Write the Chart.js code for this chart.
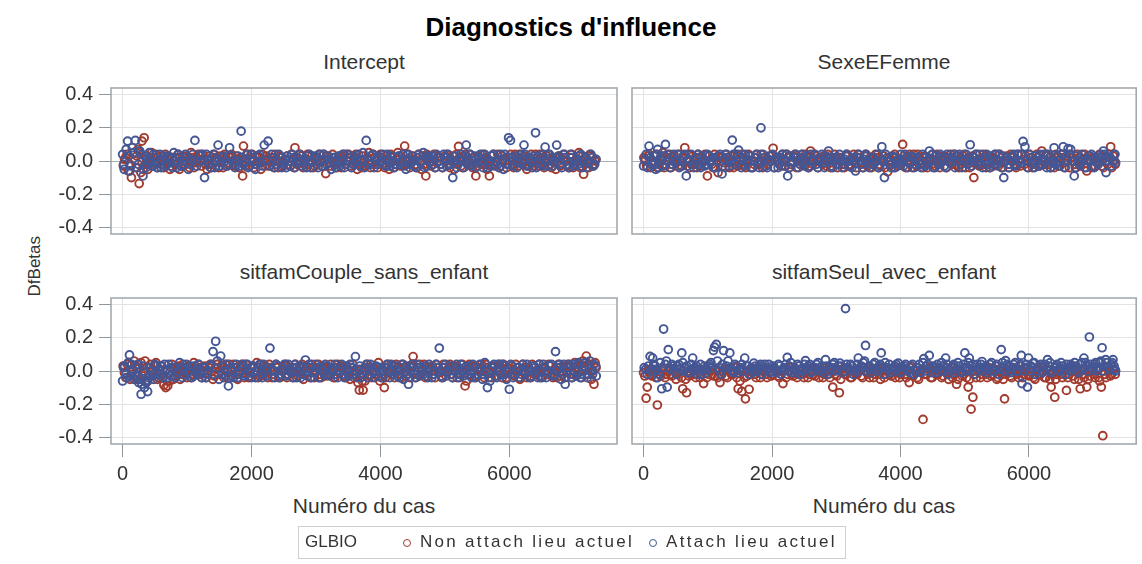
<!DOCTYPE html>
<html>
<head>
<meta charset="utf-8">
<script src="https://cdn.jsdelivr.net/npm/chart.js"></script>
<style>
  body { margin:0; width:1142px; height:564px; background:#fff; position:relative; overflow:hidden;
         font-family:"Liberation Sans", Arial, sans-serif; color:#333; }
  .txt { position:absolute; white-space:nowrap; text-align:center; line-height:1.2; }
  canvas { position:absolute; }
  #legende { position:absolute; left:298px; top:526px; width:548px; height:33px; border:1px solid #cfcfcf; box-sizing:border-box; }
  #legende span { position:absolute; top:5px; font-size:17px; white-space:nowrap; }
  .rond { position:absolute; top:12px; width:6px; height:6px; border-radius:50%; border:1.6px solid; }
</style>
</head>
<body>
<div class="txt" style="left:0;width:1142px;top:12px;font-size:26px;font-weight:bold;color:#000">Diagnostics d'influence</div>
<div class="txt" style="left:64px;width:600px;top:49px;font-size:21px">Intercept</div>
<div class="txt" style="left:584px;width:600px;top:49px;font-size:21px">SexeEFemme</div>
<div class="txt" style="left:64px;width:600px;top:259px;font-size:21px">sitfamCouple_sans_enfant</div>
<div class="txt" style="left:584px;width:600px;top:259px;font-size:21px">sitfamSeul_avec_enfant</div>
<div class="txt" style="left:64px;width:600px;top:493px;font-size:21px">Numéro du cas</div>
<div class="txt" style="left:584px;width:600px;top:493px;font-size:21px">Numéro du cas</div>
<div class="txt" style="left:-15px;width:100px;top:256px;font-size:17px;transform:rotate(-90deg)">DfBetas</div>

<canvas id="cIntercept" width="625" height="170" style="left:0;top:78px"></canvas>
<canvas id="cSexe" width="522" height="170" style="left:620px;top:78px"></canvas>
<canvas id="cCouple" width="625" height="240" style="left:0;top:288px"></canvas>
<canvas id="cSeul" width="522" height="240" style="left:620px;top:288px"></canvas>

<div id="legende">
  <span style="left:6px;top:5px">GLBIO</span>
  <div class="rond" style="left:104px;border-color:#A23A2E"></div>
  <span style="left:121px;letter-spacing:2.3px">Non attach lieu actuel</span>
  <div class="rond" style="left:350px;border-color:#445694"></div>
  <span style="left:367px;letter-spacing:2.3px">Attach lieu actuel</span>
</div>

<script>
const ROUGE = '#A23A2E';
const BLEU = '#445694';
const xTicks = [0, 2000, 4000, 6000];
const yTicks = [-0.4, -0.2, 0, 0.2, 0.4];

// [numéro du cas, DfBeta] - Non attach lieu actuel / Attach lieu actuel
const interceptNon = [[12,-0.03],[48,0.02],[90,-0.06],[137,-0.1],[170,0.05],[205,-0.04],[240,0.07],[257,-0.136],[283,-0.07],[300,0.12],[334,0.14],[360,0.03],[392,-0.05],[430,0.02],[470,-0.03],[515,0.04],[560,-0.01],[600,0.03],[640,-0.04],[690,0.01],[735,-0.05],[770,0.02],[815,-0.02],[860,0.04],[905,-0.03],[950,0.00],[995,0.03],[1040,-0.04],[1085,0.02],[1130,-0.01],[1175,0.04],[1220,-0.03],[1265,0.01],[1310,-0.05],[1355,0.03],[1400,-0.02],[1445,0.02],[1490,-0.04],[1535,0.00],[1580,0.04],[1625,-0.03],[1670,0.02],[1715,-0.01],[1760,0.03],[1805,-0.04],[1862,-0.09],[1875,0.09],[1920,0.01],[1965,-0.03],[2010,0.04],[2055,-0.02],[2100,0.02],[2145,-0.05],[2190,0.01],[2235,0.03],[2280,-0.03],[2325,0.00],[2370,0.04],[2415,-0.04],[2460,0.02],[2505,-0.01],[2550,0.03],[2595,-0.03],[2640,0.01],[2674,0.08],[2710,-0.02],[2755,0.04],[2800,-0.04],[2845,0.01],[2890,-0.02],[2935,0.03],[2980,-0.03],[3025,0.02],[3070,-0.01],[3115,0.04],[3152,-0.076],[3190,0.01],[3235,-0.03],[3280,0.02],[3325,-0.04],[3370,0.03],[3415,0.00],[3460,-0.02],[3505,0.04],[3550,-0.03],[3595,0.02],[3640,-0.05],[3685,0.01],[3730,0.03],[3775,-0.03],[3820,0.05],[3865,-0.02],[3910,0.02],[3955,-0.04],[4000,0.04],[4045,-0.01],[4090,0.03],[4135,-0.05],[4180,0.02],[4225,-0.02],[4270,0.05],[4315,-0.03],[4376,0.09],[4410,0.01],[4455,-0.04],[4500,0.03],[4545,-0.02],[4590,0.04],[4635,-0.05],[4704,-0.09],[4740,0.02],[4785,-0.03],[4830,0.04],[4875,-0.01],[4920,0.02],[4965,-0.04],[5010,0.03],[5055,-0.02],[5100,0.01],[5145,-0.05],[5180,0.04],[5212,0.088],[5250,-0.03],[5295,0.02],[5340,-0.01],[5385,0.04],[5430,-0.04],[5480,-0.09],[5520,0.03],[5565,-0.02],[5610,0.01],[5655,-0.05],[5690,-0.09],[5730,0.03],[5775,-0.02],[5820,0.04],[5865,-0.03],[5910,0.01],[5955,-0.04],[6000,0.02],[6045,-0.02],[6090,0.04],[6135,-0.03],[6180,0.00],[6225,0.03],[6270,-0.05],[6315,0.02],[6360,-0.01],[6405,0.04],[6450,-0.03],[6495,0.01],[6540,-0.04],[6585,0.03],[6630,-0.02],[6675,0.02],[6720,-0.05],[6765,0.03],[6810,-0.01],[6855,0.04],[6900,-0.03],[6945,0.02],[6990,-0.04],[7035,0.01],[7080,0.05],[7120,-0.03],[7152,-0.08],[7190,0.02],[7230,-0.04],[7270,0.03],[7310,-0.02],[7340,0.01],
  [30,0.01],[70,0.04],[115,-0.02],[188,0.0],[222,0.03],[270,0.05],[318,-0.05],[345,-0.02],[375,0.01],[410,-0.01],[450,0.05],[492,0.0],[538,-0.04],[580,0.01],[620,-0.02],[665,0.04],[712,-0.01],[752,-0.03],[792,0.0],[838,0.02],[882,-0.05],[928,0.03],[972,-0.02],[1018,0.01],[1062,0.05],[1108,-0.04],[1152,0.02],[1198,0.0],[1242,0.04],[1288,-0.02],[1332,0.01],[1378,-0.04],[1422,0.04],[1468,0.0],[1512,0.03],[1558,-0.04],[1602,0.02],[1648,-0.01],[1692,0.04],[1738,-0.03],[1782,0.01],[1828,0.02],[1898,-0.03],[1942,0.04],[1988,0.0],[2032,-0.04],[2078,0.03],[2122,-0.01],[2168,0.04],[2212,-0.03],[2258,0.0],[2302,0.02],[2348,-0.04],[2392,0.01],[2438,0.03],[2482,-0.03],[2528,0.01],[2572,-0.02],[2618,0.04],[2658,-0.04],[2690,0.02],[2732,-0.01],[2778,0.03],[2822,-0.02],[2868,0.04],[2912,0.0],[2958,-0.04],[3002,0.02],[3048,0.04],[3092,-0.03],[3138,0.0],[3170,0.03],[3212,-0.01],[3258,0.04],[3302,-0.02],[3348,0.01],[3392,-0.04],[3438,0.04],[3482,0.0],[3528,0.02],[3572,-0.01],[3618,0.04],[3662,-0.02],[3708,-0.04],[3752,0.0],[3798,0.02],[3842,-0.04],[3888,0.04],[3932,0.0],[3978,-0.02],[4022,0.02],[4068,-0.04],[4112,0.0],[4158,0.04],[4202,-0.04],[4248,0.01],[4292,0.03],[4340,0.0],[4390,-0.02],[4432,0.04],[4478,-0.01],[4522,0.01],[4568,-0.04],[4612,0.0],[4660,0.03],[4682,-0.02],[4720,0.04],[4762,-0.01],[4808,0.0],[4852,-0.04],[4898,0.03],[4942,-0.02],[4988,0.0],[5032,0.04],[5078,-0.04],[5122,0.03],[5165,0.0],[5195,-0.02],[5230,0.02],[5272,-0.04],[5318,0.04],[5362,0.0],[5408,-0.02],[5455,0.02],[5500,-0.03],[5542,0.0],[5588,0.04],[5632,-0.02],[5672,0.01],[5710,-0.03],[5752,0.04],[5798,0.0],[5842,-0.04],[5888,0.03],[5932,0.0],[5978,-0.02],[6022,0.04],[6068,-0.04],[6112,0.01],[6158,0.04],[6202,-0.02],[6248,0.0],[6292,-0.03],[6338,0.04],[6382,-0.03],[6428,0.0],[6472,0.04],[6518,-0.02],[6562,0.0],[6608,0.04],[6652,-0.04],[6698,0.0],[6742,0.02],[6788,-0.03],[6832,0.01],[6878,0.0],[6922,-0.04],[6968,0.04],[7012,-0.02],[7058,0.0],[7100,-0.04],[7138,0.03],[7172,-0.02],[7210,0.0],[7250,0.04],[7290,-0.03],[7328,0.0]];
const interceptAttach = [[0,0.04],[25,-0.05],[55,0.07],[78,0.12],[110,-0.06],[150,0.08],[197,0.124],[225,-0.04],[265,0.06],[316,-0.09],[345,0.03],[380,-0.02],[415,0.05],[455,-0.03],[495,0.02],[540,-0.04],[580,0.04],[620,0.01],[665,-0.03],[710,0.03],[750,-0.01],[795,0.05],[840,-0.04],[885,0.02],[930,-0.02],[975,0.04],[1020,-0.05],[1065,0.01],[1122,0.124],[1150,-0.03],[1195,0.03],[1235,0.00],[1271,-0.1],[1300,0.04],[1340,-0.02],[1385,0.02],[1430,-0.04],[1481,0.096],[1520,-0.01],[1565,0.03],[1610,-0.03],[1660,0.08],[1700,0.00],[1745,-0.04],[1790,0.03],[1839,0.18],[1880,-0.02],[1925,0.04],[1970,-0.03],[2015,0.02],[2060,-0.05],[2105,0.03],[2150,-0.01],[2197,0.096],[2257,0.12],[2290,-0.03],[2335,0.02],[2380,-0.02],[2425,0.04],[2470,-0.04],[2515,0.01],[2560,0.03],[2605,-0.03],[2650,0.02],[2695,-0.01],[2740,0.04],[2785,-0.03],[2830,0.01],[2875,0.03],[2920,-0.04],[2965,0.02],[3010,-0.02],[3055,0.04],[3100,-0.03],[3145,0.01],[3190,0.03],[3235,-0.05],[3280,0.02],[3325,0.00],[3370,-0.03],[3415,0.04],[3460,-0.02],[3505,0.02],[3550,-0.04],[3595,0.03],[3640,0.01],[3685,-0.03],[3730,0.05],[3779,0.124],[3810,-0.02],[3855,0.03],[3900,-0.04],[3945,0.02],[3990,-0.01],[4035,0.04],[4080,-0.03],[4125,0.01],[4170,0.03],[4215,-0.04],[4260,0.02],[4305,-0.02],[4350,0.04],[4395,-0.05],[4440,0.01],[4485,0.03],[4530,-0.03],[4575,0.02],[4620,-0.01],[4665,0.05],[4710,-0.03],[4755,0.01],[4800,0.03],[4845,-0.04],[4890,0.02],[4935,-0.02],[4980,0.04],[5025,-0.03],[5070,0.01],[5122,-0.1],[5160,0.03],[5205,-0.02],[5250,0.04],[5295,-0.04],[5331,0.096],[5370,0.01],[5415,-0.03],[5460,0.03],[5505,-0.01],[5550,0.04],[5595,-0.04],[5640,0.02],[5685,-0.02],[5730,0.03],[5775,-0.03],[5820,0.01],[5865,0.04],[5910,-0.05],[5950,0.02],[5988,0.14],[6018,0.124],[6050,-0.03],[6095,0.03],[6140,-0.01],[6185,0.04],[6227,0.096],[6265,-0.03],[6310,0.02],[6355,-0.04],[6406,0.17],[6440,0.03],[6485,-0.02],[6520,0.04],[6555,0.084],[6600,-0.03],[6645,0.02],[6690,-0.01],[6734,0.096],[6770,0.03],[6815,-0.04],[6860,0.02],[6905,-0.02],[6950,0.04],[6995,-0.03],[7040,0.01],[7085,0.03],[7130,-0.04],[7175,0.02],[7220,-0.01],[7265,0.04],[7305,-0.03],[7345,0.01],
  [15,-0.02],[92,0.03],[130,-0.03],[172,0.05],[245,-0.02],[290,0.04],[362,-0.04],[398,0.0],[436,-0.01],[476,0.04],[518,-0.02],[560,0.0],[600,-0.04],[642,0.03],[688,-0.02],[730,0.02],[772,-0.04],[818,0.0],[862,0.04],[908,-0.03],[952,0.0],[998,0.02],[1042,-0.02],[1090,0.04],[1172,-0.01],[1215,0.04],[1320,0.0],[1362,-0.04],[1408,0.04],[1455,0.0],[1500,-0.03],[1542,0.02],[1588,0.0],[1635,-0.02],[1680,0.03],[1722,-0.02],[1768,0.0],[1812,-0.03],[1858,0.02],[1902,0.0],[1948,-0.04],[1992,0.04],[2038,0.0],[2082,-0.02],[2128,0.04],[2172,-0.03],[2225,0.0],[2312,0.04],[2358,-0.04],[2402,0.0],[2448,0.02],[2492,-0.02],[2538,-0.04],[2582,0.0],[2628,0.04],[2672,-0.04],[2718,0.02],[2762,0.0],[2808,-0.01],[2852,-0.04],[2898,0.04],[2942,0.0],[2988,0.03],[3032,-0.04],[3078,0.0],[3122,0.04],[3168,-0.02],[3212,-0.01],[3258,0.0],[3302,-0.04],[3348,0.03],[3392,0.0],[3438,-0.04],[3482,0.04],[3528,0.0],[3572,-0.02],[3618,-0.01],[3662,0.04],[3708,0.0],[3752,-0.04],[3832,0.0],[3878,0.04],[3922,-0.02],[3968,0.03],[4012,0.0],[4058,-0.02],[4102,0.04],[4148,-0.03],[4192,0.0],[4238,-0.02],[4282,0.03],[4328,0.0],[4372,-0.03],[4418,0.04],[4462,-0.02],[4508,0.0],[4552,-0.04],[4598,0.04],[4642,0.0],[4688,-0.04],[4732,0.03],[4778,0.0],[4822,-0.02],[4868,0.04],[4912,0.0],[4958,-0.04],[5002,0.02],[5048,0.04],[5095,-0.02],[5140,0.0],[5182,-0.04],[5228,0.01],[5272,0.0],[5312,0.03],[5350,-0.02],[5392,0.04],[5438,0.0],[5482,-0.04],[5528,0.02],[5572,0.0],[5618,0.04],[5662,-0.04],[5708,0.0],[5752,0.04],[5798,-0.01],[5842,-0.04],[5888,0.0],[5930,0.04],[5968,-0.02],[6035,0.02],[6072,0.0],[6118,-0.04],[6162,0.02],[6205,0.0],[6245,0.04],[6288,-0.02],[6332,0.0],[6380,0.03],[6420,-0.04],[6462,0.0],[6502,0.02],[6538,-0.03],[6578,0.0],[6622,0.04],[6668,-0.03],[6712,0.02],[6752,0.0],[6792,-0.02],[6838,0.04],[6882,0.0],[6928,-0.04],[6972,0.02],[7018,0.0],[7062,-0.02],[7108,0.04],[7152,0.0],[7198,-0.04],[7242,0.0],[7285,0.02],[7325,-0.02]];

const sexeNon = [[5,0.02],[45,-0.03],[88,0.04],[130,-0.01],[172,0.03],[215,-0.04],[258,0.01],[300,0.05],[342,-0.02],[385,0.02],[428,-0.04],[470,0.03],[512,-0.01],[555,0.04],[598,-0.03],[642,0.08],[680,0.00],[722,-0.04],[765,0.03],[808,-0.02],[850,0.04],[893,-0.03],[935,0.01],[994,-0.09],[1020,0.03],[1062,-0.02],[1105,0.04],[1160,-0.07],[1190,0.02],[1232,-0.03],[1275,0.04],[1318,-0.01],[1360,0.03],[1402,-0.04],[1445,0.02],[1488,-0.02],[1530,0.04],[1572,-0.03],[1615,0.01],[1658,0.03],[1700,-0.04],[1742,0.02],[1785,-0.02],[1828,0.04],[1870,-0.03],[1912,0.01],[1955,0.03],[2017,0.077],[2040,-0.04],[2082,0.02],[2125,-0.01],[2168,0.04],[2210,-0.03],[2252,0.02],[2295,-0.02],[2338,0.03],[2380,-0.04],[2422,0.01],[2465,0.04],[2508,-0.03],[2550,0.02],[2600,0.06],[2635,-0.02],[2678,0.03],[2720,-0.04],[2762,0.01],[2805,0.03],[2848,-0.03],[2890,0.02],[2932,-0.01],[2975,0.04],[3018,-0.04],[3060,0.02],[3102,-0.02],[3145,0.03],[3188,-0.03],[3230,0.01],[3272,0.04],[3315,-0.04],[3358,0.02],[3400,-0.01],[3442,0.03],[3485,-0.03],[3528,0.02],[3570,-0.02],[3612,0.04],[3655,-0.04],[3698,0.01],[3740,0.03],[3800,-0.065],[3825,0.02],[3868,-0.02],[3910,0.04],[3952,-0.03],[3995,0.01],[4034,0.1],[4080,-0.04],[4122,0.02],[4165,-0.01],[4208,0.04],[4250,-0.03],[4292,0.02],[4335,-0.02],[4378,0.03],[4420,-0.04],[4462,0.01],[4505,0.04],[4548,-0.03],[4590,0.02],[4632,-0.01],[4675,0.03],[4718,-0.04],[4760,0.02],[4802,-0.02],[4845,0.04],[4888,-0.03],[4930,0.01],[4972,0.03],[5015,-0.04],[5058,0.02],[5100,-0.01],[5142,-0.1],[5185,0.04],[5228,-0.03],[5270,0.02],[5312,-0.02],[5355,0.03],[5398,-0.04],[5440,0.01],[5482,0.04],[5525,-0.03],[5568,0.02],[5610,-0.01],[5652,0.03],[5695,-0.04],[5738,0.02],[5780,-0.02],[5822,0.04],[5865,-0.03],[5908,0.01],[5950,0.03],[5992,-0.04],[6035,0.02],[6078,-0.01],[6120,0.04],[6162,-0.03],[6200,0.06],[6248,-0.02],[6290,0.03],[6332,-0.04],[6375,0.01],[6418,0.04],[6460,-0.03],[6502,0.02],[6545,-0.01],[6588,0.03],[6630,-0.04],[6672,0.02],[6715,-0.02],[6758,0.04],[6800,-0.03],[6842,0.01],[6900,-0.06],[6928,0.03],[6970,-0.04],[7012,0.02],[7055,-0.01],[7098,0.04],[7140,-0.03],[7182,0.02],[7225,-0.02],[7273,0.086],[7310,0.03],[7345,-0.02],
  [25,0.0],[68,0.03],[110,-0.04],[152,0.0],[195,0.04],[238,-0.02],[280,0.03],[322,-0.04],[365,0.0],[408,0.04],[450,-0.02],[492,0.01],[535,-0.03],[578,0.0],[620,0.02],[700,0.04],[745,-0.02],[788,0.0],[830,-0.04],[872,0.02],[915,-0.01],[958,0.04],[1040,0.0],[1082,-0.04],[1128,0.02],[1210,0.0],[1252,-0.01],[1295,0.02],[1338,-0.04],[1380,0.0],[1422,0.04],[1465,-0.03],[1508,0.0],[1550,0.02],[1592,-0.04],[1636,0.04],[1680,0.0],[1722,-0.02],[1765,0.04],[1808,0.0],[1850,-0.04],[1892,0.02],[1935,-0.02],[1978,0.0],[2060,0.02],[2102,0.0],[2145,-0.03],[2188,0.01],[2230,0.04],[2272,-0.04],[2315,0.0],[2358,0.04],[2400,0.0],[2442,-0.02],[2485,0.0],[2528,0.04],[2572,-0.04],[2615,0.0],[2655,0.04],[2698,0.0],[2740,0.02],[2782,-0.02],[2828,0.0],[2870,0.04],[2912,-0.04],[2955,0.0],[2998,0.02],[3040,-0.02],[3082,0.0],[3125,-0.04],[3168,0.04],[3210,-0.02],[3252,0.0],[3295,-0.01],[3338,0.04],[3380,0.0],[3422,-0.04],[3465,0.04],[3508,0.0],[3550,-0.04],[3592,0.0],[3635,0.02],[3678,-0.02],[3720,0.0],[3762,-0.04],[3848,0.0],[3890,-0.04],[3932,0.02],[3975,0.0],[4015,-0.02],[4058,0.03],[4100,0.0],[4142,0.04],[4185,-0.04],[4228,0.0],[4270,0.04],[4312,0.0],[4355,-0.04],[4398,0.02],[4440,0.0],[4482,-0.02],[4525,0.0],[4568,0.04],[4610,-0.04],[4652,0.0],[4695,0.02],[4738,0.0],[4780,0.04],[4822,0.0],[4865,-0.02],[4908,-0.04],[4950,0.0],[4992,0.04],[5035,0.0],[5078,-0.04],[5120,0.03],[5162,0.0],[5205,-0.02],[5248,0.0],[5290,0.04],[5332,-0.04],[5375,0.0],[5418,0.02],[5460,-0.02],[5502,0.0],[5545,0.04],[5588,-0.04],[5630,0.0],[5672,-0.02],[5715,0.04],[5758,0.0],[5800,-0.04],[5842,0.0],[5885,0.04],[5928,-0.02],[5970,0.0],[6012,0.04],[6055,-0.04],[6098,0.0],[6140,0.02],[6182,-0.02],[6225,0.0],[6268,0.04],[6310,-0.02],[6352,0.0],[6395,-0.04],[6438,0.02],[6480,0.0],[6522,0.04],[6565,-0.04],[6608,0.0],[6650,0.04],[6692,0.0],[6735,-0.04],[6778,0.02],[6820,0.0],[6870,0.04],[6948,0.0],[6990,0.02],[7032,-0.03],[7075,0.0],[7118,0.02],[7160,-0.04],[7202,0.0],[7245,0.04],[7290,-0.04],[7330,0.0]];
const sexeAttach = [[0,-0.03],[40,0.04],[85,0.09],[120,-0.02],[160,0.03],[190,-0.05],[220,0.07],[262,0.02],[300,-0.03],[341,0.1],[372,0.04],[410,-0.04],[450,0.02],[492,-0.01],[533,0.04],[575,-0.03],[618,0.03],[665,-0.09],[700,0.01],[742,0.04],[783,-0.04],[826,0.02],[868,-0.02],[910,0.03],[953,-0.03],[995,0.04],[1038,-0.01],[1080,0.02],[1122,-0.04],[1165,0.03],[1222,-0.078],[1250,0.01],[1292,0.04],[1335,-0.03],[1381,0.126],[1420,-0.02],[1460,0.04],[1480,0.065],[1520,-0.04],[1562,0.02],[1605,-0.01],[1648,0.03],[1690,-0.04],[1732,0.02],[1775,-0.02],[1828,0.2],[1860,0.04],[1902,-0.03],[1945,0.01],[1988,0.03],[2030,-0.04],[2072,0.02],[2115,-0.02],[2158,0.04],[2200,-0.03],[2244,-0.09],[2285,0.03],[2328,-0.01],[2370,0.04],[2412,-0.04],[2455,0.02],[2498,-0.02],[2540,0.03],[2582,-0.03],[2625,0.01],[2668,0.04],[2710,-0.04],[2752,0.02],[2795,-0.01],[2838,0.03],[2880,0.06],[2922,-0.03],[2965,0.02],[3008,-0.02],[3050,0.04],[3092,-0.04],[3135,0.01],[3178,0.03],[3220,-0.03],[3262,0.02],[3300,-0.06],[3348,0.04],[3390,-0.02],[3432,0.01],[3475,0.03],[3518,-0.04],[3560,0.02],[3602,-0.01],[3645,0.04],[3680,-0.03],[3710,0.086],[3750,-0.1],[3790,0.02],[3832,-0.02],[3875,0.03],[3918,-0.04],[3960,0.01],[4002,0.04],[4045,-0.03],[4088,0.02],[4130,-0.01],[4172,0.03],[4215,-0.04],[4258,0.02],[4300,-0.02],[4342,0.04],[4385,-0.03],[4450,0.06],[4470,0.01],[4512,-0.04],[4555,0.03],[4598,-0.02],[4640,0.02],[4682,-0.03],[4725,0.04],[4768,-0.01],[4810,0.02],[4852,-0.04],[4895,0.03],[4938,-0.02],[4980,0.01],[5022,0.04],[5085,0.098],[5108,-0.03],[5150,0.02],[5192,-0.01],[5235,0.04],[5278,-0.04],[5320,0.02],[5362,-0.02],[5405,0.03],[5448,-0.03],[5490,0.01],[5532,0.04],[5575,-0.04],[5608,-0.1],[5660,0.02],[5702,-0.02],[5745,0.03],[5788,-0.03],[5830,0.04],[5872,-0.01],[5909,0.118],[5938,0.086],[5980,-0.04],[6022,0.02],[6065,-0.02],[6108,0.03],[6150,-0.03],[6192,0.01],[6235,0.04],[6278,-0.04],[6320,0.02],[6362,-0.01],[6392,0.08],[6440,0.03],[6482,-0.03],[6534,0.086],[6570,0.02],[6610,0.075],[6650,0.07],[6705,-0.09],[6740,0.03],[6782,-0.02],[6825,0.04],[6868,-0.04],[6910,0.01],[6952,0.03],[6995,-0.03],[7038,0.02],[7080,-0.02],[7122,0.04],[7160,0.06],[7200,-0.07],[7242,0.02],[7285,-0.03],[7325,0.04],[7350,-0.01],
  [20,0.01],[62,-0.04],[102,0.02],[140,0.0],[175,-0.02],[205,0.04],[242,-0.04],[282,0.0],[320,0.03],[392,0.0],[430,-0.02],[472,0.04],[512,0.0],[555,-0.04],[597,0.0],[640,0.04],[682,-0.03],[720,0.0],[762,-0.02],[805,0.0],[848,0.04],[890,-0.04],[932,0.0],[975,-0.02],[1018,0.03],[1060,0.0],[1100,-0.04],[1142,0.0],[1190,0.04],[1272,-0.04],[1315,0.02],[1358,0.0],[1400,0.04],[1440,0.0],[1500,0.02],[1540,-0.02],[1585,0.04],[1628,0.0],[1670,-0.04],[1712,0.0],[1755,0.04],[1800,-0.04],[1842,0.0],[1882,0.02],[1925,-0.04],[1968,0.0],[2010,0.04],[2052,0.0],[2095,-0.04],[2138,0.02],[2180,0.0],[2222,0.04],[2265,-0.04],[2308,0.0],[2350,0.02],[2392,0.0],[2435,-0.02],[2478,0.04],[2520,0.0],[2562,-0.04],[2605,0.04],[2648,0.0],[2690,-0.02],[2732,0.0],[2775,0.04],[2818,-0.04],[2860,0.0],[2902,0.02],[2945,-0.04],[2988,0.0],[3030,0.02],[3072,0.0],[3115,-0.02],[3158,0.04],[3200,0.0],[3242,-0.04],[3282,0.0],[3325,0.02],[3370,0.0],[3412,-0.04],[3455,0.04],[3498,0.0],[3540,-0.02],[3582,0.02],[3625,0.0],[3662,-0.04],[3730,0.0],[3770,0.04],[3812,0.0],[3855,-0.04],[3898,0.02],[3940,0.0],[3982,-0.02],[4025,0.0],[4068,0.04],[4110,-0.04],[4152,0.0],[4195,0.02],[4238,-0.02],[4280,0.0],[4322,-0.04],[4365,0.02],[4410,0.0],[4428,-0.02],[4492,0.04],[4535,-0.04],[4578,0.0],[4620,0.04],[4662,0.0],[4705,-0.04],[4748,0.02],[4790,0.0],[4832,0.04],[4875,0.0],[4918,0.04],[4960,-0.04],[5002,0.0],[5045,-0.02],[5065,0.02],[5130,0.0],[5172,0.04],[5215,0.0],[5258,-0.02],[5300,0.0],[5342,0.04],[5385,-0.04],[5428,0.0],[5470,0.04],[5512,-0.02],[5555,0.0],[5590,0.03],[5635,0.0],[5680,-0.04],[5722,0.0],[5765,0.04],[5808,-0.02],[5850,0.0],[5890,0.04],[5958,0.0],[6000,0.04],[6042,0.0],[6085,-0.04],[6128,0.0],[6170,0.04],[6212,-0.02],[6255,0.0],[6298,0.04],[6340,-0.04],[6375,0.0],[6418,-0.02],[6462,0.0],[6505,0.04],[6550,-0.04],[6590,0.0],[6630,0.04],[6680,0.0],[6722,-0.04],[6762,0.0],[6805,0.02],[6848,0.0],[6890,-0.04],[6932,0.0],[6975,0.04],[7018,-0.04],[7060,0.0],[7102,0.02],[7142,0.0],[7180,0.04],[7222,0.0],[7265,0.02],[7305,0.0],[7340,0.04]];

const coupleNon = [[8,0.03],[50,-0.04],[92,0.05],[135,-0.02],[178,0.06],[220,-0.05],[262,0.02],[305,-0.03],[348,0.06],[390,-0.06],[432,0.04],[475,-0.02],[518,0.05],[560,-0.04],[600,0.03],[640,-0.085],[669,-0.1],[700,-0.09],[730,-0.06],[765,0.04],[808,-0.03],[850,0.02],[893,-0.05],[935,0.04],[978,-0.01],[1020,0.03],[1062,-0.04],[1105,0.05],[1148,-0.02],[1190,0.02],[1232,-0.04],[1275,0.03],[1318,-0.01],[1360,0.04],[1402,-0.05],[1445,0.02],[1488,-0.02],[1530,0.03],[1572,-0.04],[1615,0.01],[1658,0.04],[1700,-0.03],[1742,0.02],[1785,-0.05],[1828,0.03],[1870,-0.01],[1912,0.04],[1955,-0.04],[1998,0.02],[2040,-0.02],[2082,0.05],[2125,-0.03],[2168,0.01],[2210,0.03],[2252,-0.04],[2295,0.02],[2338,-0.02],[2380,0.04],[2422,-0.03],[2465,0.01],[2508,0.03],[2550,-0.04],[2592,0.02],[2635,-0.01],[2678,0.04],[2720,-0.03],[2762,0.02],[2805,-0.05],[2848,0.03],[2890,-0.01],[2932,0.04],[2975,-0.04],[3018,0.02],[3060,-0.02],[3102,0.03],[3145,-0.03],[3188,0.01],[3230,0.04],[3272,-0.04],[3315,0.02],[3358,-0.01],[3400,0.03],[3442,-0.03],[3485,0.02],[3528,-0.05],[3570,0.04],[3612,-0.02],[3650,-0.07],[3672,-0.115],[3700,0.01],[3731,-0.115],[3760,-0.06],[3800,0.04],[3842,-0.03],[3885,0.02],[3928,-0.02],[3970,0.05],[4012,-0.04],[4060,-0.1],[4095,0.02],[4138,-0.01],[4180,0.03],[4222,-0.04],[4265,0.02],[4308,-0.02],[4350,0.04],[4392,-0.03],[4435,0.01],[4478,0.03],[4507,0.087],[4550,-0.04],[4592,0.02],[4635,-0.02],[4678,0.04],[4720,-0.03],[4762,0.01],[4805,0.03],[4848,-0.04],[4890,0.02],[4932,-0.01],[4975,0.04],[5018,-0.03],[5060,0.02],[5102,-0.02],[5145,0.03],[5188,-0.04],[5230,0.01],[5272,0.04],[5313,-0.09],[5358,0.02],[5400,-0.02],[5442,0.03],[5485,-0.03],[5528,0.01],[5570,0.04],[5612,-0.04],[5655,0.02],[5698,-0.01],[5740,0.03],[5782,-0.03],[5825,0.02],[5868,-0.02],[5910,0.04],[5952,-0.04],[5995,0.01],[6038,0.03],[6080,-0.03],[6122,0.02],[6165,-0.05],[6208,0.04],[6250,-0.02],[6292,0.02],[6335,-0.04],[6378,0.03],[6420,-0.01],[6462,0.04],[6505,-0.03],[6548,0.02],[6590,-0.02],[6632,0.03],[6675,-0.04],[6718,0.01],[6760,0.04],[6802,-0.03],[6845,0.02],[6888,-0.01],[6930,0.03],[6972,-0.04],[7015,0.05],[7058,-0.02],[7100,0.04],[7140,0.06],[7194,0.09],[7230,0.03],[7270,-0.05],[7313,-0.08],[7345,0.02],
  [28,-0.01],[72,0.04],[115,-0.05],[158,0.0],[200,0.03],[242,-0.03],[285,0.05],[328,-0.01],[370,0.02],[412,-0.03],[455,0.0],[498,0.03],[540,-0.05],[580,0.01],[620,-0.04],[688,-0.06],[748,0.02],[788,-0.05],[830,0.0],[872,0.03],[915,-0.02],[958,0.0],[1000,-0.04],[1042,0.02],[1085,-0.02],[1128,0.0],[1170,0.04],[1212,-0.02],[1255,0.0],[1298,-0.04],[1340,0.02],[1382,0.0],[1425,-0.03],[1468,0.04],[1510,0.0],[1552,-0.02],[1595,0.04],[1638,-0.04],[1680,0.0],[1722,0.04],[1765,-0.02],[1808,0.0],[1850,0.04],[1892,-0.04],[1935,0.0],[1978,-0.03],[2020,0.03],[2062,0.0],[2105,-0.04],[2148,0.04],[2190,-0.02],[2232,0.0],[2275,0.04],[2318,-0.04],[2360,0.0],[2402,0.02],[2445,-0.04],[2488,0.0],[2530,0.04],[2572,-0.02],[2615,0.0],[2658,-0.04],[2700,0.02],[2742,0.0],[2785,0.04],[2828,-0.02],[2870,0.0],[2912,-0.04],[2955,0.02],[2998,0.0],[3040,0.04],[3082,-0.04],[3125,0.0],[3168,0.02],[3210,-0.02],[3252,0.0],[3295,-0.04],[3338,0.04],[3380,0.0],[3422,0.02],[3465,-0.04],[3508,0.0],[3550,0.02],[3592,-0.04],[3632,0.0],[3688,-0.04],[3718,-0.06],[3780,0.0],[3822,0.02],[3865,-0.04],[3908,0.0],[3950,0.02],[3992,-0.06],[4035,0.0],[4078,-0.04],[4118,0.04],[4160,0.0],[4202,-0.02],[4245,0.04],[4288,0.0],[4330,-0.04],[4372,0.02],[4415,0.0],[4458,-0.04],[4490,0.04],[4528,0.0],[4570,-0.02],[4612,0.04],[4655,0.0],[4698,-0.04],[4740,0.02],[4782,0.0],[4825,-0.02],[4868,0.04],[4910,0.0],[4952,-0.04],[4995,0.02],[5038,0.0],[5080,0.04],[5122,-0.04],[5165,0.0],[5208,0.02],[5250,-0.02],[5292,0.0],[5335,-0.06],[5378,0.04],[5420,0.0],[5462,-0.04],[5505,0.02],[5548,0.0],[5590,-0.02],[5632,0.04],[5675,0.0],[5718,-0.04],[5760,0.02],[5802,0.0],[5845,0.04],[5888,-0.04],[5930,0.0],[5972,0.02],[6015,-0.02],[6058,0.0],[6100,0.04],[6142,-0.04],[6185,0.0],[6228,0.02],[6270,-0.04],[6312,0.0],[6355,0.04],[6398,-0.02],[6440,0.0],[6482,-0.04],[6525,0.02],[6568,0.0],[6610,0.04],[6652,-0.02],[6695,0.0],[6738,-0.04],[6780,0.02],[6822,0.0],[6865,-0.04],[6908,0.04],[6950,0.0],[6992,-0.02],[7035,0.02],[7078,0.0],[7120,-0.04],[7160,0.03],[7210,-0.02],[7250,0.04],[7292,0.0],[7330,0.05]];
const coupleAttach = [[0,-0.06],[30,0.03],[70,-0.04],[107,0.097],[140,0.04],[180,-0.05],[220,0.02],[250,-0.07],[287,-0.14],[315,0.03],[340,-0.1],[365,-0.07],[388,-0.124],[420,0.02],[460,-0.03],[500,0.04],[545,-0.02],[588,0.03],[630,-0.04],[672,0.01],[715,0.04],[758,-0.03],[800,0.02],[842,-0.02],[885,0.05],[928,-0.04],[970,0.02],[1012,-0.01],[1055,0.03],[1098,-0.03],[1140,0.01],[1182,0.04],[1225,-0.04],[1268,0.02],[1310,-0.02],[1352,0.03],[1403,0.117],[1444,0.179],[1470,0.06],[1495,-0.05],[1522,0.09],[1560,0.03],[1600,-0.03],[1642,-0.09],[1680,0.02],[1722,-0.04],[1765,0.04],[1808,-0.02],[1850,0.02],[1892,-0.03],[1935,0.04],[1978,-0.01],[2020,0.03],[2062,-0.04],[2105,0.02],[2148,-0.02],[2190,0.04],[2232,-0.03],[2286,0.138],[2318,0.01],[2360,-0.04],[2402,0.03],[2445,-0.02],[2488,0.02],[2530,-0.03],[2572,0.04],[2615,-0.01],[2658,0.02],[2700,-0.04],[2742,0.03],[2785,-0.02],[2836,0.066],[2870,-0.03],[2912,0.02],[2955,-0.01],[2998,0.04],[3040,-0.04],[3082,0.02],[3125,-0.02],[3168,0.03],[3210,-0.03],[3252,0.01],[3295,0.04],[3338,-0.04],[3380,0.02],[3422,-0.02],[3465,0.03],[3508,-0.03],[3550,0.02],[3612,0.087],[3635,-0.04],[3678,0.03],[3720,-0.02],[3762,0.02],[3805,-0.04],[3848,0.04],[3890,-0.01],[3932,0.03],[3975,-0.03],[4018,0.02],[4060,-0.02],[4102,0.04],[4145,-0.04],[4188,0.01],[4230,0.03],[4272,-0.03],[4315,0.02],[4358,-0.05],[4400,0.03],[4436,-0.08],[4480,0.02],[4522,-0.02],[4565,0.04],[4608,-0.03],[4650,0.01],[4692,0.03],[4735,-0.04],[4778,0.02],[4820,-0.02],[4862,0.04],[4913,0.138],[4948,-0.03],[4990,0.02],[5032,-0.01],[5075,0.03],[5118,-0.04],[5160,0.02],[5202,-0.02],[5245,0.04],[5288,-0.03],[5330,0.01],[5372,0.03],[5415,-0.04],[5458,0.02],[5500,-0.02],[5542,0.04],[5585,-0.05],[5620,0.05],[5660,-0.1],[5700,-0.06],[5742,0.02],[5785,-0.03],[5828,0.04],[5870,-0.02],[5912,0.03],[5955,-0.05],[6000,-0.11],[6040,0.03],[6082,-0.02],[6125,0.02],[6168,-0.04],[6210,0.04],[6252,-0.01],[6295,0.02],[6338,-0.03],[6380,0.03],[6422,-0.02],[6465,0.04],[6508,-0.04],[6550,0.02],[6592,-0.01],[6635,0.03],[6678,-0.03],[6716,0.117],[6760,0.02],[6802,-0.05],[6845,0.04],[6866,-0.08],[6910,0.02],[6952,-0.02],[6995,0.04],[7038,-0.03],[7080,0.05],[7122,-0.02],[7165,0.03],[7208,-0.04],[7250,0.06],[7292,-0.02],[7340,0.03],
  [15,0.02],[50,-0.02],[88,0.05],[122,-0.03],[160,0.0],[200,-0.03],[235,0.04],[268,-0.05],[300,-0.08],[328,0.0],[352,-0.06],[405,-0.04],[440,0.0],[480,-0.05],[522,0.03],[565,0.0],[608,-0.02],[650,0.04],[692,-0.04],[736,0.0],[778,0.02],[820,-0.04],[862,0.0],[905,0.02],[948,-0.02],[990,0.04],[1032,0.0],[1075,-0.04],[1118,0.03],[1160,-0.02],[1202,0.0],[1245,0.02],[1288,-0.04],[1330,0.0],[1375,0.04],[1420,-0.02],[1540,-0.02],[1580,0.0],[1620,0.04],[1660,-0.04],[1700,0.0],[1742,0.02],[1785,-0.04],[1828,0.0],[1870,0.04],[1912,-0.02],[1955,0.0],[1998,-0.04],[2040,0.02],[2082,0.0],[2125,0.04],[2168,-0.04],[2210,0.0],[2252,0.02],[2340,0.0],[2380,0.04],[2422,-0.04],[2465,0.0],[2508,0.04],[2550,-0.02],[2592,0.0],[2635,-0.04],[2678,0.04],[2720,0.0],[2762,-0.04],[2805,0.02],[2850,0.0],[2890,0.04],[2932,-0.04],[2975,0.0],[3018,0.02],[3060,-0.04],[3102,0.0],[3145,0.04],[3188,-0.02],[3230,0.0],[3272,0.02],[3315,-0.02],[3358,0.0],[3400,0.04],[3442,-0.04],[3485,0.0],[3528,0.04],[3570,-0.02],[3590,0.0],[3655,0.01],[3698,-0.04],[3740,0.0],[3782,0.04],[3825,-0.02],[3868,0.0],[3910,-0.04],[3952,0.02],[3995,0.0],[4038,-0.04],[4080,0.02],[4122,0.0],[4165,0.04],[4208,-0.02],[4250,0.0],[4292,-0.04],[4335,0.04],[4378,0.0],[4418,-0.02],[4458,0.0],[4500,0.04],[4542,-0.04],[4585,0.0],[4628,0.02],[4670,-0.02],[4712,0.0],[4755,0.04],[4798,-0.04],[4840,0.0],[4885,0.02],[4930,0.0],[4968,-0.04],[5010,0.04],[5052,0.0],[5095,-0.02],[5138,0.0],[5180,0.04],[5222,-0.04],[5265,0.0],[5308,0.02],[5350,-0.02],[5392,0.0],[5435,0.04],[5478,-0.04],[5520,0.0],[5562,0.02],[5602,-0.02],[5640,0.0],[5680,-0.04],[5720,0.0],[5762,0.04],[5805,-0.04],[5848,0.0],[5890,0.04],[5932,-0.02],[5975,0.0],[6020,0.04],[6060,-0.04],[6102,0.0],[6145,0.02],[6188,-0.02],[6230,0.0],[6272,0.04],[6315,-0.04],[6358,0.0],[6400,0.02],[6442,-0.04],[6485,0.0],[6528,0.04],[6570,-0.04],[6612,0.0],[6655,0.04],[6698,-0.02],[6738,0.0],[6780,0.04],[6822,-0.02],[6888,0.0],[6930,0.04],[6972,-0.04],[7015,0.0],[7058,0.04],[7100,-0.04],[7142,0.0],[7185,0.05],[7228,-0.02],[7270,0.0],[7312,0.04],[7348,-0.03]];

const seulNon = [[0,-0.01],[40,-0.164],[57,-0.097],[90,0.01],[130,-0.03],[172,0.00],[215,-0.205],[250,-0.02],[292,0.02],[335,-0.04],[378,0.00],[420,-0.02],[462,0.01],[505,-0.05],[548,-0.01],[610,-0.107],[640,0.02],[669,-0.131],[710,-0.03],[752,0.01],[795,-0.02],[838,0.00],[880,-0.04],[935,-0.076],[965,0.01],[1008,-0.02],[1050,0.02],[1092,-0.03],[1135,0.00],[1190,-0.07],[1220,-0.02],[1262,0.01],[1305,-0.04],[1348,0.00],[1390,-0.02],[1432,0.02],[1473,-0.107],[1500,-0.06],[1530,-0.123],[1558,0.00],[1586,-0.168],[1610,-0.03],[1643,-0.11],[1690,0.01],[1732,-0.02],[1775,0.02],[1818,-0.04],[1860,0.00],[1902,-0.02],[1945,0.01],[1988,-0.03],[2030,0.02],[2072,-0.01],[2115,-0.04],[2170,-0.076],[2200,0.01],[2242,-0.02],[2285,0.02],[2328,-0.03],[2370,0.00],[2412,-0.02],[2455,0.01],[2498,-0.04],[2540,0.00],[2582,-0.02],[2625,0.02],[2668,-0.03],[2710,0.01],[2752,-0.01],[2795,-0.04],[2838,0.02],[2880,-0.02],[2946,-0.097],[2965,0.00],[3008,-0.03],[3048,-0.131],[3092,0.01],[3135,-0.02],[3178,0.02],[3220,-0.04],[3262,0.00],[3305,-0.02],[3348,0.01],[3390,-0.03],[3432,0.02],[3475,-0.01],[3518,-0.04],[3560,0.01],[3602,-0.02],[3645,0.02],[3688,-0.05],[3730,0.00],[3772,-0.02],[3815,0.01],[3858,-0.03],[3900,0.02],[3942,-0.01],[3985,-0.04],[4028,0.01],[4070,-0.02],[4136,-0.07],[4155,0.02],[4198,-0.03],[4240,0.00],[4282,-0.05],[4325,0.01],[4351,-0.292],[4410,-0.02],[4452,0.02],[4495,-0.04],[4538,0.00],[4580,-0.02],[4622,0.01],[4665,-0.03],[4708,0.02],[4750,-0.05],[4792,0.00],[4835,-0.02],[4873,-0.08],[4920,0.01],[4962,-0.03],[5010,0.02],[5054,-0.097],[5099,-0.23],[5127,-0.158],[5160,-0.02],[5202,0.01],[5245,-0.04],[5288,0.00],[5330,-0.02],[5372,0.02],[5415,-0.03],[5458,0.01],[5500,-0.05],[5542,0.00],[5585,-0.02],[5620,-0.168],[5670,0.01],[5712,-0.03],[5755,0.02],[5798,-0.01],[5840,-0.04],[5882,0.01],[5925,-0.02],[5968,0.02],[6010,-0.03],[6052,0.00],[6095,-0.05],[6138,0.01],[6180,-0.02],[6222,0.02],[6265,-0.04],[6308,0.00],[6346,-0.097],[6402,-0.158],[6435,-0.02],[6478,0.01],[6520,-0.04],[6562,0.00],[6584,-0.117],[6625,-0.02],[6668,0.02],[6710,-0.05],[6752,0.01],[6799,-0.107],[6838,-0.02],[6880,0.01],[6901,-0.097],[6945,-0.03],[6988,0.02],[7030,-0.04],[7072,0.01],[7100,-0.06],[7127,-0.097],[7150,-0.39],[7180,-0.02],[7222,0.02],[7265,-0.03],[7305,0.01],[7345,-0.02],
  [20,-0.03],[72,0.0],[110,-0.02],[150,0.01],[192,-0.04],[232,0.0],[270,-0.03],[312,0.01],[355,-0.02],[398,0.02],[440,-0.03],[482,0.0],[525,-0.02],[568,0.01],[590,-0.04],[655,-0.05],[690,0.0],[730,-0.02],[772,0.01],[815,-0.04],[858,0.0],[900,-0.02],[945,0.01],[985,-0.04],[1028,0.0],[1070,-0.02],[1112,0.01],[1155,-0.04],[1240,0.0],[1282,-0.03],[1325,0.01],[1368,-0.02],[1410,0.0],[1452,-0.04],[1515,0.01],[1572,-0.04],[1625,0.0],[1665,-0.02],[1710,0.01],[1752,-0.04],[1795,0.0],[1838,-0.02],[1880,0.01],[1922,-0.04],[1965,0.0],[2008,-0.02],[2050,0.01],[2092,-0.03],[2135,0.0],[2220,-0.04],[2262,0.0],[2305,-0.02],[2348,0.01],[2390,-0.04],[2432,0.0],[2475,-0.02],[2518,0.01],[2560,-0.04],[2602,0.0],[2645,-0.02],[2688,0.01],[2730,-0.04],[2772,0.0],[2815,-0.02],[2858,0.01],[2900,-0.04],[2925,0.0],[2985,-0.02],[3028,0.01],[3070,-0.05],[3112,0.0],[3155,-0.02],[3198,0.01],[3240,-0.04],[3282,0.0],[3325,-0.02],[3368,0.01],[3410,-0.04],[3452,0.0],[3495,-0.02],[3538,0.01],[3580,-0.04],[3622,0.0],[3665,-0.02],[3708,0.01],[3750,-0.04],[3792,0.0],[3835,-0.02],[3878,0.01],[3920,-0.04],[3962,0.0],[4005,-0.02],[4048,0.01],[4090,-0.04],[4112,0.0],[4175,-0.02],[4218,0.01],[4260,-0.04],[4302,0.0],[4380,-0.02],[4430,0.01],[4472,-0.04],[4515,0.0],[4558,-0.02],[4600,0.01],[4642,-0.04],[4685,0.0],[4728,-0.02],[4770,0.01],[4812,-0.04],[4855,0.0],[4895,-0.05],[4940,0.0],[4985,-0.02],[5030,-0.04],[5075,-0.05],[5140,0.0],[5180,-0.04],[5222,0.0],[5265,-0.02],[5308,0.01],[5350,-0.04],[5392,0.0],[5435,-0.02],[5478,0.01],[5520,-0.04],[5562,0.0],[5600,-0.05],[5645,-0.02],[5690,0.0],[5732,-0.04],[5775,0.01],[5818,-0.02],[5860,0.0],[5902,-0.04],[5945,0.01],[5988,-0.02],[6030,0.0],[6072,-0.04],[6115,0.01],[6158,-0.02],[6200,0.0],[6242,-0.04],[6285,0.01],[6325,-0.05],[6370,-0.02],[6418,-0.05],[6455,0.0],[6498,-0.02],[6540,0.01],[6605,-0.04],[6645,0.0],[6688,-0.03],[6730,0.01],[6775,-0.05],[6818,0.0],[6860,-0.04],[6922,-0.05],[6965,0.0],[7008,-0.02],[7050,0.01],[7085,-0.04],[7165,0.0],[7200,-0.04],[7242,0.0],[7285,-0.02],[7325,0.01]];
const seulAttach = [[10,0.02],[55,-0.02],[102,0.088],[142,0.078],[180,0.03],[220,-0.04],[283,-0.107],[312,0.253],[340,0.04],[368,-0.097],[385,0.129],[420,0.01],[462,0.03],[505,-0.02],[548,0.04],[595,0.109],[630,0.00],[672,0.03],[715,-0.01],[765,0.078],[800,0.02],[842,-0.02],[885,0.04],[928,0.01],[970,-0.01],[1012,0.03],[1050,0.05],[1088,0.123],[1105,0.144],[1133,0.16],[1170,0.02],[1210,-0.02],[1246,0.123],[1290,0.03],[1343,0.109],[1380,0.00],[1422,0.04],[1465,-0.01],[1508,0.02],[1575,0.078],[1600,0.03],[1642,-0.02],[1680,0.02],[1717,0.047],[1760,0.00],[1802,0.03],[1845,-0.02],[1888,0.04],[1930,0.01],[1972,-0.01],[2015,0.03],[2058,0.00],[2100,0.04],[2142,-0.02],[2185,0.02],[2238,0.082],[2270,0.03],[2312,-0.01],[2355,0.02],[2398,0.04],[2440,-0.02],[2482,0.01],[2521,0.062],[2565,0.03],[2608,-0.01],[2650,0.02],[2692,0.04],[2735,0.00],[2778,0.03],[2833,0.068],[2862,-0.02],[2905,0.02],[2948,0.04],[2990,0.00],[3030,0.03],[3059,0.047],[3100,-0.01],[3144,0.376],[3180,0.02],[3222,0.04],[3265,-0.02],[3308,0.01],[3343,0.078],[3390,0.03],[3420,0.05],[3456,0.154],[3495,0.02],[3538,-0.01],[3580,0.04],[3622,0.01],[3665,0.03],[3700,0.109],[3740,-0.02],[3782,0.02],[3825,0.04],[3868,0.00],[3910,0.03],[3966,0.047],[3995,-0.01],[4038,0.02],[4080,0.04],[4122,0.00],[4165,0.03],[4208,-0.02],[4250,0.02],[4292,0.04],[4335,0.01],[4363,0.074],[4410,0.03],[4448,0.094],[4490,-0.01],[4532,0.02],[4575,0.04],[4618,0.00],[4660,0.03],[4703,0.078],[4745,-0.02],[4788,0.02],[4830,0.04],[4872,0.01],[4915,0.03],[4958,-0.01],[5003,0.109],[5040,0.02],[5071,0.078],[5110,0.03],[5152,-0.02],[5195,0.04],[5238,0.01],[5269,0.057],[5310,0.02],[5352,-0.01],[5395,0.04],[5438,0.00],[5480,0.03],[5522,-0.02],[5569,0.129],[5605,0.02],[5637,0.062],[5680,0.03],[5722,-0.01],[5765,0.04],[5808,0.00],[5850,0.03],[5881,0.094],[5892,-0.076],[5935,0.02],[5977,-0.097],[5994,0.078],[6030,0.03],[6062,0.047],[6100,-0.02],[6142,0.02],[6185,0.04],[6228,0.00],[6289,0.068],[6310,0.03],[6352,-0.01],[6395,0.02],[6438,0.04],[6480,0.00],[6522,0.03],[6565,-0.02],[6608,0.02],[6650,0.04],[6692,0.01],[6735,0.03],[6778,-0.01],[6820,0.05],[6856,0.078],[6900,0.03],[6941,0.205],[6980,0.02],[7020,0.04],[7060,0.00],[7100,0.05],[7139,0.14],[7170,0.03],[7195,0.068],[7240,0.02],[7280,0.04],[7309,0.068],[7340,0.01],
  [32,0.01],[78,0.03],[122,0.0],[160,0.04],[200,0.01],[240,-0.02],[262,0.05],[298,0.02],[355,0.06],[402,0.02],[440,0.04],[482,0.0],[525,0.03],[570,0.01],[612,0.05],[650,0.02],[692,-0.01],[740,0.04],[782,0.0],[820,0.03],[862,0.01],[905,-0.02],[948,0.03],[990,0.01],[1030,0.04],[1070,0.02],[1150,0.06],[1190,0.0],[1228,0.04],[1268,0.02],[1315,0.06],[1360,0.02],[1400,-0.01],[1442,0.03],[1485,0.01],[1530,0.04],[1555,0.0],[1620,0.03],[1660,0.01],[1700,-0.01],[1740,0.03],[1780,0.01],[1822,0.04],[1865,0.0],[1908,0.02],[1950,0.04],[1992,0.0],[2035,0.02],[2078,-0.01],[2120,0.03],[2162,0.01],[2210,0.04],[2252,0.0],[2292,0.05],[2335,0.01],[2378,-0.01],[2420,0.03],[2462,0.0],[2502,0.04],[2545,0.01],[2588,0.04],[2630,0.0],[2672,0.02],[2715,0.05],[2758,0.01],[2800,-0.01],[2848,0.03],[2885,0.0],[2928,0.02],[2970,0.05],[3010,0.01],[3080,0.03],[3122,0.0],[3162,0.04],[3200,0.01],[3245,0.03],[3285,0.0],[3325,0.04],[3370,0.0],[3405,0.02],[3440,0.06],[3475,0.0],[3518,0.03],[3560,0.01],[3600,0.05],[3645,0.0],[3685,0.04],[3720,0.02],[3762,0.05],[3805,0.01],[3848,-0.01],[3890,0.02],[3935,0.04],[3980,0.02],[4018,0.0],[4060,0.03],[4102,0.01],[4145,-0.01],[4188,0.04],[4230,0.0],[4272,0.02],[4315,-0.01],[4350,0.05],[4385,0.0],[4428,0.04],[4470,0.01],[4512,0.03],[4555,-0.01],[4598,0.02],[4640,0.05],[4682,0.0],[4725,0.04],[4768,0.0],[4810,0.03],[4852,-0.01],[4895,0.05],[4938,0.0],[4980,0.04],[5022,0.0],[5055,0.05],[5090,0.01],[5130,0.04],[5172,0.0],[5215,0.02],[5255,0.04],[5290,0.0],[5332,0.03],[5375,0.01],[5418,0.05],[5460,0.0],[5500,0.04],[5545,0.01],[5588,0.05],[5620,0.0],[5660,0.04],[5702,0.0],[5745,0.02],[5788,0.05],[5830,0.0],[5865,0.04],[5915,0.0],[5955,0.04],[6012,0.0],[6045,0.02],[6080,0.05],[6122,0.0],[6165,0.03],[6208,-0.01],[6250,0.04],[6270,0.01],[6330,0.05],[6372,0.0],[6415,0.03],[6458,0.01],[6500,0.05],[6542,0.0],[6585,0.04],[6628,0.0],[6670,0.03],[6712,0.05],[6755,0.0],[6798,0.04],[6838,0.01],[6878,0.05],[6920,0.0],[6960,0.04],[7000,0.01],[7040,0.05],[7080,0.02],[7120,0.06],[7155,0.0],[7215,0.05],[7260,0.01],[7295,0.05],[7325,0.03],[7350,0.0]];

// cadre gris autour de chaque panneau
const cadre = {
  id: 'cadre',
  afterDatasetsDraw(chart) {
    const { ctx, chartArea: a } = chart;
    ctx.save();
    ctx.strokeStyle = '#9ea5aa';
    ctx.lineWidth = 1.5;
    ctx.strokeRect(a.left, a.top, a.right - a.left, a.bottom - a.top);
    ctx.restore();
  }
};

function serie(label, data, couleur) {
  return {
    label, data,
    borderColor: couleur, backgroundColor: 'rgba(0,0,0,0)',
    pointRadius: 3.9, pointBorderWidth: 1.9, pointHoverRadius: 3.9
  };
}

// pas de marge automatique due aux étiquettes : le cadre reste à sa place
function sansMarge(s) {
  s.paddingTop = 0; s.paddingBottom = 0; s.paddingLeft = 0; s.paddingRight = 0;
}

function panneau(id, non, attach, montrerX, montrerY, padding) {
  const police = { family: '"Liberation Sans", Arial, sans-serif', size: 20 };
  return new Chart(document.getElementById(id), {
    type: 'scatter',
    data: { datasets: [ serie('Attach lieu actuel', attach, BLEU), serie('Non attach lieu actuel', non, ROUGE) ] },
    options: {
      responsive: false, animation: false, events: [],
      layout: { padding },
      plugins: { legend: { display: false }, tooltip: { enabled: false } },
      scales: {
        x: {
          type: 'linear', min: -180, max: 7670,
          afterBuildTicks: s => { s.ticks = xTicks.map(v => ({ value: v })); },
          afterFit: s => { s.height = montrerX ? 84 : 0; sansMarge(s); },
          border: { display: false },
          grid: { color: '#e3e3e3', drawTicks: montrerX, tickLength: 13, tickColor: '#8f969b' },
          ticks: { display: montrerX, color: '#333', font: police, padding: 5, callback: v => String(v) }
        },
        y: {
          min: -0.44, max: 0.44,
          afterBuildTicks: s => { s.ticks = yTicks.map(v => ({ value: v })); },
          afterFit: s => { s.width = montrerY ? 111 : 0; sansMarge(s); },
          border: { display: false },
          grid: {
            color: c => (c.tick && Math.abs(c.tick.value) < 1e-9) ? '#a9afb4' : '#e3e3e3',
            drawTicks: montrerY, tickLength: 12, tickColor: '#8f969b'
          },
          ticks: { display: montrerY, color: '#333', font: police, padding: 6, callback: v => v.toFixed(1) }
        }
      }
    },
    plugins: [cadre]
  });
}

panneau('cIntercept', interceptNon, interceptAttach, false, true, { top: 10, right: 8, bottom: 14, left: 0 });
panneau('cSexe', sexeNon, sexeAttach, false, false, { top: 10, right: 5, bottom: 14, left: 12 });
panneau('cCouple', coupleNon, coupleAttach, true, true, { top: 10, right: 8, bottom: 0, left: 0 });
panneau('cSeul', seulNon, seulAttach, true, false, { top: 10, right: 5, bottom: 0, left: 12 });
</script>
</body>
</html>
